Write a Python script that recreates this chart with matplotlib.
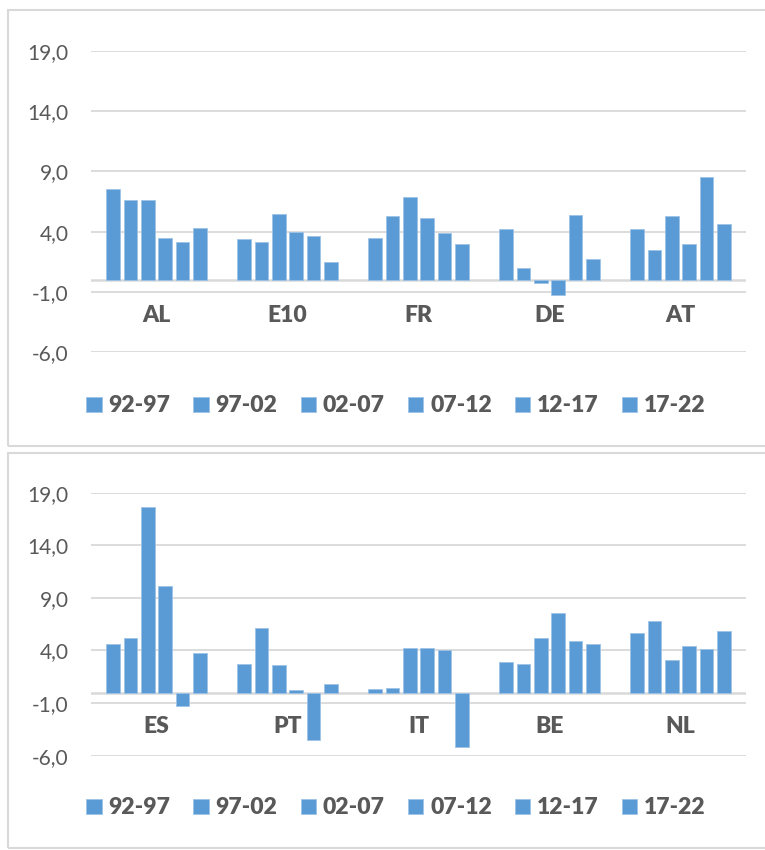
import matplotlib
matplotlib.use("Agg")
import matplotlib.pyplot as plt
from matplotlib import ticker
from matplotlib.patches import Rectangle

plt.rcParams['font.family'] = ['Lato', 'DejaVu Sans']

periods = ["92-97", "97-02", "02-07", "07-12", "12-17", "17-22"]

top_countries = ["AL", "E10", "FR", "DE", "AT"]
top_92_97 = [7.5, 3.4, 3.5, 4.2, 4.2]
top_97_02 = [6.6, 3.1, 5.3, 1.0, 2.5]
top_02_07 = [6.6, 5.5, 6.9, -0.3, 5.3]
top_07_12 = [3.5, 4.0, 5.1, -1.3, 3.0]
top_12_17 = [3.1, 3.6, 3.9, 5.4, 8.5]
top_17_22 = [4.3, 1.5, 3.0, 1.7, 4.6]

bot_countries = ["ES", "PT", "IT", "BE", "NL"]
bot_92_97 = [4.6, 2.7, 0.3, 2.9, 5.7]
bot_97_02 = [5.2, 6.1, 0.4, 2.7, 6.8]
bot_02_07 = [17.6, 2.6, 4.2, 5.2, 3.1]
bot_07_12 = [10.1, 0.2, 4.2, 7.6, 4.4]
bot_12_17 = [-1.3, -4.5, 4.0, 4.9, 4.1]
bot_17_22 = [3.8, 0.8, -5.2, 4.6, 5.9]

yticks = [-6, -1, 4, 9, 14, 19]

BLUE = "#5B9BD5"
GRID = "#D9D9D9"
TEXT = "#595959"

W, H = 765, 850
fig = plt.figure(figsize=(W / 100, H / 100), dpi=100)
fig.patch.set_facecolor("white")


def fig_box(x0, y0, x1, y1):
    # pixel box (top-left origin) -> figure fraction rect
    return [x0 / W, 1 - y1 / H, (x1 - x0) / W, (y1 - y0) / H]


def draw_panel(ax, countries, series, label_off):
    n = len(series)
    step = 0.132
    for j, vals in enumerate(series):
        xs = [i + (j - (n - 1) / 2) * step for i in range(len(countries))]
        ax.bar(xs, vals, width=step * 0.8, color=BLUE, edgecolor="#9DC3E6",
               linewidth=0.6, label=periods[j], zorder=3)
    ax.set_xlim(-0.5, len(countries) - 0.5)
    ax.set_ylim(-6, 19)
    ax.set_yticks(yticks)
    ax.yaxis.set_major_formatter(ticker.FuncFormatter(lambda v, p: ("%.1f" % v).replace(".", ",")))
    ax.grid(axis="y", color=GRID, linewidth=1.3, zorder=0)
    ax.axhline(0, color=GRID, linewidth=1.8, zorder=2)
    for s in ax.spines.values():
        s.set_visible(False)
    ax.tick_params(axis="y", length=0, pad=16, labelsize=15, labelcolor=TEXT)
    ax.set_xticks([])
    for i, c in enumerate(countries):
        ax.annotate(c, xy=(i, 0), xytext=(0, -label_off), textcoords="offset points",
                    ha="center", va="center", fontsize=16.5, fontweight="heavy", color=TEXT)


def draw_legend(ax, y_px):
    ax.legend(loc="center", bbox_to_anchor=(396 / W, 1 - y_px / H),
              bbox_transform=fig.transFigure, ncol=6, frameon=False,
              handlelength=0.68, handleheight=0.68, handletextpad=0.3,
              columnspacing=1.0,
              prop={"size": 16.5, "weight": "heavy"}, labelcolor=TEXT)


# panel frames
fig.patches.append(Rectangle((8 / W, 1 - 446 / H), 762 / W, 436 / H, transform=fig.transFigure,
                             facecolor="none", edgecolor=GRID, linewidth=1.5))
fig.patches.append(Rectangle((8 / W, 1 - 848 / H), 762 / W, 395 / H, transform=fig.transFigure,
                             facecolor="none", edgecolor=GRID, linewidth=1.5))

ax1 = fig.add_axes(fig_box(91, 51, 746, 352))
draw_panel(ax1, top_countries, [top_92_97, top_97_02, top_02_07, top_07_12, top_12_17, top_17_22], 26)
draw_legend(ax1, 406)

ax2 = fig.add_axes(fig_box(91, 492.7, 746, 755.7))
draw_panel(ax2, bot_countries, [bot_92_97, bot_97_02, bot_02_07, bot_07_12, bot_12_17, bot_17_22], 24.5)
draw_legend(ax2, 808)

fig.savefig("out.png", dpi=100, facecolor="white")
